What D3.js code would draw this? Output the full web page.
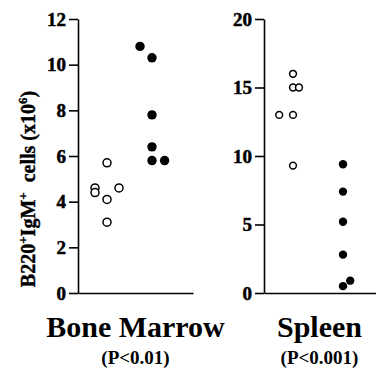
<!DOCTYPE html>
<html>
<head>
<meta charset="utf-8">
<script src="https://cdn.jsdelivr.net/npm/d3@7"></script>
<style>
  body { margin: 0; background: #fff; }
  svg { display: block; }
  text { font-family: "Liberation Serif", "Times New Roman", serif; font-weight: bold; fill: #000; }
</style>
</head>
<body>
<script>
// B220+IgM+ cells, open = control, filled = mutant
// jitter values are in "dot slots" to the left / right of the column centre

// Bone Marrow panel
const bmOpenY = [5.7, 4.6, 4.4, 4.6, 4.1, 3.1];
const bmOpenJ = [0, -1, -1, 1, 0, 0];
const bmFilledY = [10.8, 10.3, 7.8, 6.4, 5.8, 5.8];
const bmFilledJ = [-1, 0, 0, 0, 0, 1.05];
const bmTicks = [0, 2, 4, 6, 8, 10, 12];

// Spleen panel
const spOpenY = [16, 15, 15, 13, 13, 9.3];
const spOpenJ = [0, 0, 0.5, -1.15, 0, 0];
const spFilledY = [9.4, 7.4, 5.2, 2.8, 0.5, 0.9];
const spFilledJ = [0, 0, 0, 0, 0, 0.6];
const spTicks = [0, 5, 10, 15, 20];

const groups = ["open", "filled"];
const panelNames = ["Bone Marrow", "Spleen"];
const pValues = ["(P<0.01)", "(P<0.001)"];

var svgWidth = 376, svgHeight = 370;
var y0 = 293, y1 = 19;   // bottom / top of the value axes
var slot = 12;            // px per jitter unit
var serif = '"Liberation Serif", "Times New Roman", serif';

var svg = d3.select("body").append("svg")
  .attr("width", svgWidth)
  .attr("height", svgHeight);

var panels = [
  { name: panelNames[0], p: pValues[0], axisX: 78, width: 115, max: 12, ticks: bmTicks,
    cols: [29, 74], rOpen: 4, rFilled: 4.7,
    open: bmOpenY.map((v, i) => ({ g: "open", v: v, j: bmOpenJ[i] })),
    filled: bmFilledY.map((v, i) => ({ g: "filled", v: v, j: bmFilledJ[i] })) },
  { name: panelNames[1], p: pValues[1], axisX: 264, width: 115, max: 20, ticks: spTicks,
    cols: [29, 79], rOpen: 3.4, rFilled: 4.2,
    open: spOpenY.map((v, i) => ({ g: "open", v: v, j: spOpenJ[i] })),
    filled: spFilledY.map((v, i) => ({ g: "filled", v: v, j: spFilledJ[i] })) }
];

panels.forEach(function(pn) {
  var g = svg.append("g");

  var y = d3.scaleLinear().domain([0, pn.max]).range([y0, y1]);
  var x = d3.scalePoint().domain(groups)
    .range([pn.axisX + pn.cols[0], pn.axisX + pn.cols[1]]);
  var xLine = d3.scaleLinear().domain([0, 1]).range([pn.axisX, pn.axisX + pn.width]);

  // y axis
  var yAxis = g.append("g")
    .attr("transform", `translate(${pn.axisX},0)`)
    .call(d3.axisLeft(y).tickValues(pn.ticks).tickSize(9).tickSizeOuter(0).tickPadding(3));
  yAxis.attr("font-family", null).attr("font-size", null);
  yAxis.selectAll("path, line").attr("stroke", "#000").attr("stroke-width", 1.6);
  yAxis.selectAll("text")
    .style("font-family", serif)
    .style("font-weight", "bold")
    .style("font-size", "19px")
    .attr("fill", "#000")
    .attr("stroke", "#000")
    .attr("stroke-width", 0.5);

  // x axis (just the baseline)
  var xAxis = g.append("g")
    .attr("transform", `translate(0,${y0})`)
    .call(d3.axisBottom(xLine).ticks(0).tickSizeOuter(0));
  xAxis.selectAll("path").attr("stroke", "#000").attr("stroke-width", 1.6);

  // open circles
  g.selectAll(".open")
    .data(pn.open)
    .enter().append("circle")
      .attr("cx", d => x(d.g) + d.j * slot)
      .attr("cy", d => y(d.v))
      .attr("r", pn.rOpen)
      .attr("fill", "#fff")
      .attr("stroke", "#000")
      .attr("stroke-width", 1.5);

  // filled circles
  g.selectAll(".filled")
    .data(pn.filled)
    .enter().append("circle")
      .attr("cx", d => x(d.g) + d.j * slot)
      .attr("cy", d => y(d.v))
      .attr("r", pn.rFilled)
      .attr("fill", "#000");

  // panel name + p value
  var cx = pn.axisX + pn.width / 2 + (pn.axisX + pn.width > svgWidth ? -2 : 0);
  g.append("text")
    .attr("x", cx)
    .attr("y", 337)
    .attr("text-anchor", "middle")
    .style("font-size", "30px")
    .text(pn.name);
  g.append("text")
    .attr("x", cx)
    .attr("y", 364)
    .attr("text-anchor", "middle")
    .style("font-size", "19px")
    .text(pn.p);
});

// y axis title
var yTitle = svg.append("text")
  .attr("transform", "translate(35,189) rotate(-90)")
  .attr("text-anchor", "middle")
  .attr("stroke", "#000")
  .attr("stroke-width", 0.4)
  .style("font-family", serif)
  .style("font-weight", "bold")
  .style("font-size", "20px")
  .style("white-space", "pre");
yTitle.append("tspan").text("B220");
yTitle.append("tspan").attr("dy", -8).style("font-size", "13px").text("+");
yTitle.append("tspan").attr("dy", 8).text("IgM");
yTitle.append("tspan").attr("dy", -8).style("font-size", "13px").text("+");
yTitle.append("tspan").attr("dy", 8).text("  cells (x10");
yTitle.append("tspan").attr("dy", -8).style("font-size", "13px").text("6");
yTitle.append("tspan").attr("dy", 8).text(")");
</script>
</body>
</html>
